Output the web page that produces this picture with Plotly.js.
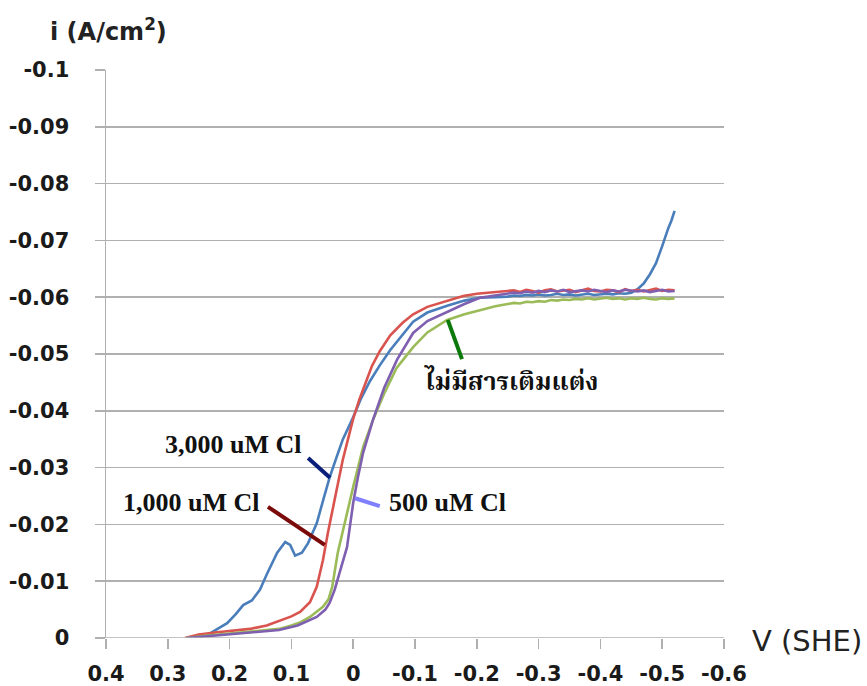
<!DOCTYPE html>
<html><head><meta charset="utf-8">
<script src="https://cdn.plot.ly/plotly-3.0.1.min.js"></script>
<style>html,body{margin:0;padding:0;background:#fff}#chart{width:867px;height:686px}</style>
</head><body><div id="chart"></div>
<script>
// ---- data (V vs SHE, i in A/cm2) ----
const blueV = [0.27,0.25,0.235,0.22,0.204,0.19,0.178,0.164,0.151,0.139,0.123,0.110,0.102,0.094,0.083,0.073,0.059,0.048,0.038,0.027,0.017,0.002,-0.012,-0.027,-0.043,-0.06,-0.08,-0.097,-0.12,-0.152,-0.18,-0.205,-0.23,
  -0.25,-0.26,-0.27,-0.28,-0.29,-0.30,-0.31,-0.32,-0.33,-0.34,-0.35,-0.36,-0.37,-0.38,-0.39,-0.40,-0.41,-0.42,-0.43,-0.44,-0.45,
  -0.46,-0.47,-0.48,-0.49,-0.50,-0.505,-0.51,-0.515,-0.52];
const blueI = [0,-0.0002,-0.0006,-0.0015,-0.0026,-0.0042,-0.0058,-0.0066,-0.0085,-0.0114,-0.0150,-0.0169,-0.0164,-0.0145,-0.0150,-0.0167,-0.0202,-0.0245,-0.0283,-0.0318,-0.0349,-0.0384,-0.0420,-0.0452,-0.0480,-0.0507,-0.0535,-0.0557,-0.0573,-0.0585,-0.0594,-0.0599,-0.0600,
  -0.0601,-0.0603,-0.0602,-0.0604,-0.0603,-0.0605,-0.0603,-0.0604,-0.0606,-0.0604,-0.0605,-0.0603,-0.0605,-0.0606,-0.0604,-0.0605,-0.0606,-0.0605,-0.0607,-0.0606,-0.0608,
  -0.0614,-0.0624,-0.0640,-0.0660,-0.0690,-0.0708,-0.0722,-0.0735,-0.0752];

const redV = [0.272,0.25,0.22,0.19,0.167,0.14,0.114,0.1,0.086,0.070,0.059,0.049,0.041,0.029,0.017,0.008,0.0,-0.01,-0.02,-0.03,-0.043,-0.06,-0.08,-0.097,-0.12,-0.152,-0.178,-0.2,-0.233,
  -0.25,-0.26,-0.27,-0.28,-0.29,-0.30,-0.31,-0.32,-0.33,-0.34,-0.35,-0.36,-0.37,-0.38,-0.39,-0.40,-0.41,-0.42,-0.43,-0.44,-0.45,-0.46,-0.47,-0.48,-0.49,-0.50,-0.51,-0.52];
const redI = [0,-0.0006,-0.0010,-0.0013,-0.0016,-0.0022,-0.0032,-0.0038,-0.0046,-0.0063,-0.0090,-0.0137,-0.0185,-0.0248,-0.0313,-0.0352,-0.0386,-0.0420,-0.0450,-0.0478,-0.0505,-0.0533,-0.0555,-0.0570,-0.0583,-0.0593,-0.0602,-0.0606,-0.0609,
  -0.0610,-0.0612,-0.0609,-0.0613,-0.0611,-0.0608,-0.0612,-0.0614,-0.0610,-0.0611,-0.0613,-0.0609,-0.0612,-0.0615,-0.0611,-0.0610,-0.0613,-0.0612,-0.0609,-0.0614,-0.0611,-0.0613,-0.0610,-0.0612,-0.0615,-0.0611,-0.0613,-0.0612];

const greenV = [0.27,0.24,0.2,0.16,0.12,0.1,0.085,0.070,0.06,0.049,0.04,0.034,0.025,0.013,0.0,-0.016,-0.032,-0.05,-0.07,-0.097,-0.12,-0.152,-0.18,-0.205,-0.23,
  -0.25,-0.26,-0.27,-0.28,-0.29,-0.30,-0.31,-0.32,-0.33,-0.34,-0.35,-0.36,-0.37,-0.38,-0.39,-0.40,-0.41,-0.42,-0.43,-0.44,-0.45,-0.46,-0.47,-0.48,-0.49,-0.50,-0.51,-0.52];
const greenI = [0,-0.0004,-0.0008,-0.0012,-0.0016,-0.0022,-0.0028,-0.0037,-0.0045,-0.0055,-0.0068,-0.0090,-0.0150,-0.0208,-0.0266,-0.0336,-0.0384,-0.0430,-0.0475,-0.0512,-0.0538,-0.0560,-0.0570,-0.0577,-0.0584,
  -0.0588,-0.0590,-0.0589,-0.0592,-0.0591,-0.0593,-0.0592,-0.0595,-0.0594,-0.0596,-0.0595,-0.0597,-0.0596,-0.0598,-0.0596,-0.0597,-0.0599,-0.0597,-0.0598,-0.0596,-0.0598,-0.0597,-0.0599,-0.0597,-0.0596,-0.0598,-0.0597,-0.0598];

const purpleV = [0.27,0.24,0.2,0.16,0.12,0.09,0.059,0.045,0.038,0.03,0.025,0.018,0.010,0.005,0.0,-0.008,-0.016,-0.032,-0.05,-0.071,-0.097,-0.12,-0.152,-0.18,-0.205,-0.233,
  -0.25,-0.26,-0.27,-0.28,-0.29,-0.30,-0.31,-0.32,-0.33,-0.34,-0.35,-0.36,-0.37,-0.38,-0.39,-0.40,-0.41,-0.42,-0.43,-0.44,-0.45,-0.46,-0.47,-0.48,-0.49,-0.50,-0.51,-0.52];
const purpleI = [0,-0.0003,-0.0006,-0.0010,-0.0014,-0.0022,-0.0037,-0.0050,-0.0062,-0.0085,-0.0102,-0.0130,-0.0160,-0.0200,-0.0238,-0.0285,-0.0326,-0.0384,-0.0440,-0.0490,-0.0537,-0.0558,-0.0574,-0.0588,-0.0599,-0.0603,
  -0.0606,-0.0608,-0.0607,-0.0610,-0.0608,-0.0611,-0.0609,-0.0612,-0.0610,-0.0613,-0.0609,-0.0611,-0.0612,-0.0610,-0.0613,-0.0611,-0.0609,-0.0612,-0.0610,-0.0613,-0.0611,-0.0610,-0.0612,-0.0609,-0.0611,-0.0613,-0.0610,-0.0611];

const xTickVals = [0.4,0.3,0.2,0.1,0,-0.1,-0.2,-0.3,-0.4,-0.5,-0.6];
const xTickText = ["0.4","0.3","0.2","0.1","0","-0.1","-0.2","-0.3","-0.4","-0.5","-0.6"];
const yTickVals = [0,-0.01,-0.02,-0.03,-0.04,-0.05,-0.06,-0.07,-0.08,-0.09,-0.1];
const yTickText = ["0","-0.01","-0.02","-0.03","-0.04","-0.05","-0.06","-0.07","-0.08","-0.09","-0.1"];

const labels = ["3,000 uM Cl","1,000 uM Cl","500 uM Cl","ไม่มีสารเติมแต่ง"];

// ---- chart ----
const lw = 2.6;
const traces = [
  {x: blueV, y: blueI, mode:'lines', line:{color:'#4A7EBB', width:lw}, name:labels[0]},
  {x: redV, y: redI, mode:'lines', line:{color:'#D9534F', width:lw}, name:labels[1]},
  {x: greenV, y: greenI, mode:'lines', line:{color:'#9BBB59', width:lw}, name:labels[3]},
  {x: purpleV, y: purpleI, mode:'lines', line:{color:'#7F5FB0', width:lw}, name:labels[2]}
];

const grid = '#B0B0B0';
const tfont = {family:'DejaVu Sans, Verdana, sans-serif', size:21, color:'#1a1a1a', weight:'bold'};
const serif = {family:'Liberation Serif, Times New Roman, serif', size:26, color:'#111', weight:'bold'};
const thai = {family:'Noto Serif Thai, Noto Sans Thai, Loma, Garuda, Norasi, serif', size:25, color:'#111', weight:'bold'};

const layout = {
  width:867, height:686,
  margin:{l:106, r:143, t:70, b:48},
  paper_bgcolor:'#fff', plot_bgcolor:'#fff',
  showlegend:false,
  xaxis:{range:[0.4,-0.6], tickvals:xTickVals, ticktext:xTickText, showgrid:false, zeroline:false,
    showline:false, ticks:'outside', ticklen:10, tickcolor:grid, tickwidth:1.5,
    tickfont:tfont, ticklabelstandoff:7},
  yaxis:{range:[0,-0.1], tickvals:yTickVals, ticktext:yTickText, showgrid:true, gridcolor:grid, gridwidth:1.5,
    zeroline:false, showline:true, linecolor:grid, linewidth:1.5, mirror:false,
    ticks:'outside', ticklen:10, tickcolor:grid, tickwidth:1.5, tickfont:tfont, ticklabelstandoff:21},
  shapes:[
    {type:'line', xref:'paper', yref:'y', x0:0, x1:1, y0:0, y1:0, line:{color:grid, width:1.5}},
    {type:'line', xref:'x', yref:'y', x0:0.073, y0:-0.0317, x1:0.0375, y1:-0.0282, line:{color:'#0A1F7A', width:4}},
    {type:'line', xref:'x', yref:'y', x0:0.138, y0:-0.0231, x1:0.046, y1:-0.0164, line:{color:'#7B0A0A', width:4}},
    {type:'line', xref:'x', yref:'y', x0:-0.003, y0:-0.0246, x1:-0.043, y1:-0.0232, line:{color:'#8080FF', width:4}},
    {type:'line', xref:'x', yref:'y', x0:-0.153, y0:-0.056, x1:-0.176, y1:-0.0491, line:{color:'#0B7A0B', width:4}}
  ],
  annotations:[
    {xref:'paper', yref:'paper', x:-0.094, y:1.07, xanchor:'left', yanchor:'middle', showarrow:false,
      text:'i (A/cm<sup>2</sup>)', font:{family:'DejaVu Sans, Verdana, sans-serif', size:24, color:'#222', weight:'bold'}},
    {xref:'paper', yref:'y', x:1.042, y:0, xanchor:'left', yanchor:'middle', showarrow:false, yshift:-3,
      text:'V (SHE)', font:{family:'DejaVu Sans, Verdana, sans-serif', size:29, color:'#222'}},
    {xref:'x', yref:'y', x:0.1945, y:-0.034, showarrow:false, text:labels[0], font:serif},
    {xref:'x', yref:'y', x:0.261, y:-0.0238, showarrow:false, text:labels[1], font:serif},
    {xref:'x', yref:'y', x:-0.152, y:-0.0239, showarrow:false, text:labels[2], font:serif},
    {xref:'x', yref:'y', x:-0.255, y:-0.0449, showarrow:false, text:labels[3], font:thai}
  ]
};

Plotly.newPlot('chart', traces, layout, {displayModeBar:false, staticPlot:true});
</script></body></html>
